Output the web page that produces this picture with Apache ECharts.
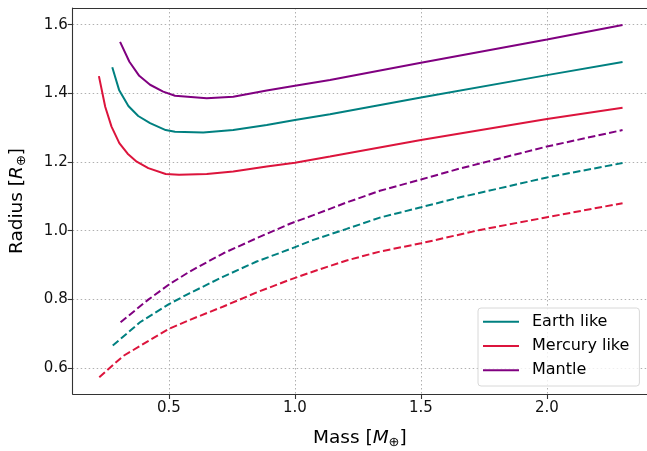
<!DOCTYPE html>
<html>
<head>
<meta charset="utf-8">
<script src="https://cdn.jsdelivr.net/npm/echarts@6/dist/echarts.min.js"></script>
<style>html,body{margin:0;padding:0;background:#fff;}#c{width:647px;height:451px;}</style>
</head>
<body>
<div id="c"></div>
<script>
// ---- data ----
const xTicks = [0.5, 1.0, 1.5, 2.0];
const yTicks = [0.6, 0.8, 1.0, 1.2, 1.4, 1.6];

const earthSolidMass   = [0.275, 0.302, 0.339, 0.378, 0.425, 0.487, 0.524, 0.636, 0.755, 0.888, 1.0, 1.139, 1.5, 2.0, 2.3];
const earthSolidRadius = [1.476, 1.410, 1.363, 1.334, 1.313, 1.293, 1.288, 1.286, 1.293, 1.308, 1.322, 1.339, 1.388, 1.453, 1.491];

const mercurySolidMass   = [0.222, 0.247, 0.272, 0.303, 0.336, 0.372, 0.418, 0.487, 0.54, 0.65, 0.755, 0.888, 1.0, 1.139, 1.5, 2.0, 2.3];
const mercurySolidRadius = [1.450, 1.361, 1.303, 1.255, 1.224, 1.201, 1.182, 1.165, 1.163, 1.165, 1.172, 1.187, 1.198, 1.216, 1.264, 1.325, 1.358];

const mantleSolidMass   = [0.306, 0.343, 0.382, 0.425, 0.477, 0.524, 0.65, 0.755, 0.888, 1.0, 1.139, 1.5, 2.0, 2.3];
const mantleSolidRadius = [1.550, 1.492, 1.451, 1.425, 1.405, 1.393, 1.386, 1.390, 1.408, 1.422, 1.439, 1.489, 1.557, 1.599];

const earthDashMass   = [0.277, 0.385, 0.5, 0.583, 0.716, 0.848, 0.98, 1.073, 1.205, 1.337, 1.5, 1.655, 2.0, 2.3];
const earthDashRadius = [0.665, 0.733, 0.786, 0.818, 0.866, 0.910, 0.946, 0.973, 1.005, 1.038, 1.068, 1.097, 1.155, 1.197];

const mercuryDashMass   = [0.2235, 0.319, 0.5, 0.583, 0.716, 0.848, 0.98, 1.073, 1.205, 1.337, 1.5, 1.734, 2.0, 2.3];
const mercuryDashRadius = [0.573, 0.635, 0.714, 0.740, 0.779, 0.820, 0.857, 0.881, 0.913, 0.939, 0.963, 1.002, 1.039, 1.080];

const mantleDashMass   = [0.308, 0.418, 0.5, 0.583, 0.716, 0.848, 0.98, 1.073, 1.205, 1.337, 1.5, 1.655, 2.0, 2.3];
const mantleDashRadius = [0.733, 0.799, 0.843, 0.881, 0.934, 0.978, 1.020, 1.045, 1.082, 1.116, 1.149, 1.181, 1.245, 1.293];

const zip = (xs, ys) => xs.map((x, i) => [x, ys[i]]);

const FONT = 'DejaVu Sans';
const C_EARTH = '#008080', C_MERC = '#DC143C', C_MANT = '#800080';

function solid(name, color, xs, ys) {
  return { name, type: 'line', data: zip(xs, ys), symbol: 'none', showSymbol: false, smooth: false,
    lineStyle: { color, width: 2 }, itemStyle: { color }, z: 3 };
}
function dashed(name, color, xs, ys) {
  return { name, type: 'line', data: zip(xs, ys), symbol: 'none', showSymbol: false, smooth: false,
    lineStyle: { color, width: 2, type: [7.5, 3.3] }, itemStyle: { color }, z: 3 };
}

const nameStyle = {
  fontFamily: FONT, fontSize: 18.5, color: '#000',
  rich: { i: { fontFamily: FONT, fontSize: 18.5, fontStyle: 'italic', color: '#000' },
          s: { fontFamily: FONT, fontSize: 13, color: '#000', padding: [8, 0, 0, 0] } }
};
const spine = { color: '#333', width: 1.1 };
const gridLine = { color: '#b0b0b0', width: 1, type: [1.5, 2.5] };

const chart = echarts.init(document.getElementById('c'));
chart.setOption({
  animation: false,
  backgroundColor: '#fff',
  grid: { left: 72.7, top: 8, right: 0, bottom: 57, containLabel: false, outerBoundsMode: 'none' },
  legend: {
    orient: 'vertical', left: 478, top: 308,
    data: ['Earth like', 'Mercury like', 'Mantle'],
    icon: 'rect', itemWidth: 36, itemHeight: 2, itemGap: 8.3,
    padding: [5.7, 10, 7.7, 5],
    backgroundColor: 'rgba(255,255,255,0.8)', borderColor: '#d8d8d8', borderWidth: 1, borderRadius: 3,
    textStyle: { fontFamily: FONT, fontSize: 16, lineHeight: 16, color: '#000', padding: [0, 0, 0, 8] },
    selectedMode: false
  },
  xAxis: [{
    type: 'value', min: 0.118, max: 2.397,
    name: 'Mass [{i|M}{s|⊕}]', nameLocation: 'middle', nameGap: 34,
    nameTextStyle: nameStyle,
    axisLine: { show: true, onZero: false, lineStyle: spine },
    axisTick: { show: true, inside: false, length: 5, customValues: xTicks, lineStyle: spine },
    axisLabel: { customValues: xTicks, margin: 7, fontFamily: FONT, fontSize: 15, color: '#111',
      formatter: v => v.toFixed(1) },
    splitLine: { show: true, lineStyle: gridLine }
  }, {
    type: 'value', position: 'top', min: 0.118, max: 2.397,
    axisLine: { show: true, onZero: false, lineStyle: spine },
    axisTick: { show: false }, axisLabel: { show: false }, splitLine: { show: false }
  }],
  yAxis: {
    type: 'value', min: 0.524, max: 1.6486,
    name: 'Radius [{i|R}{s|⊕}]', nameLocation: 'middle', nameGap: 45, nameRotate: 90,
    nameTextStyle: nameStyle,
    axisLine: { show: true, onZero: false, lineStyle: spine },
    axisTick: { show: true, inside: false, length: 5, customValues: yTicks, lineStyle: spine },
    axisLabel: { customValues: yTicks, margin: 5, fontFamily: FONT, fontSize: 15, color: '#111',
      formatter: v => v.toFixed(1) },
    splitLine: { show: true, lineStyle: gridLine }
  },
  series: [
    solid('Earth like', C_EARTH, earthSolidMass, earthSolidRadius),
    solid('Mercury like', C_MERC, mercurySolidMass, mercurySolidRadius),
    solid('Mantle', C_MANT, mantleSolidMass, mantleSolidRadius),
    dashed('Earth like (core-free)', C_EARTH, earthDashMass, earthDashRadius),
    dashed('Mercury like (core-free)', C_MERC, mercuryDashMass, mercuryDashRadius),
    dashed('Mantle (core-free)', C_MANT, mantleDashMass, mantleDashRadius)
  ]
});
</script>
</body>
</html>
